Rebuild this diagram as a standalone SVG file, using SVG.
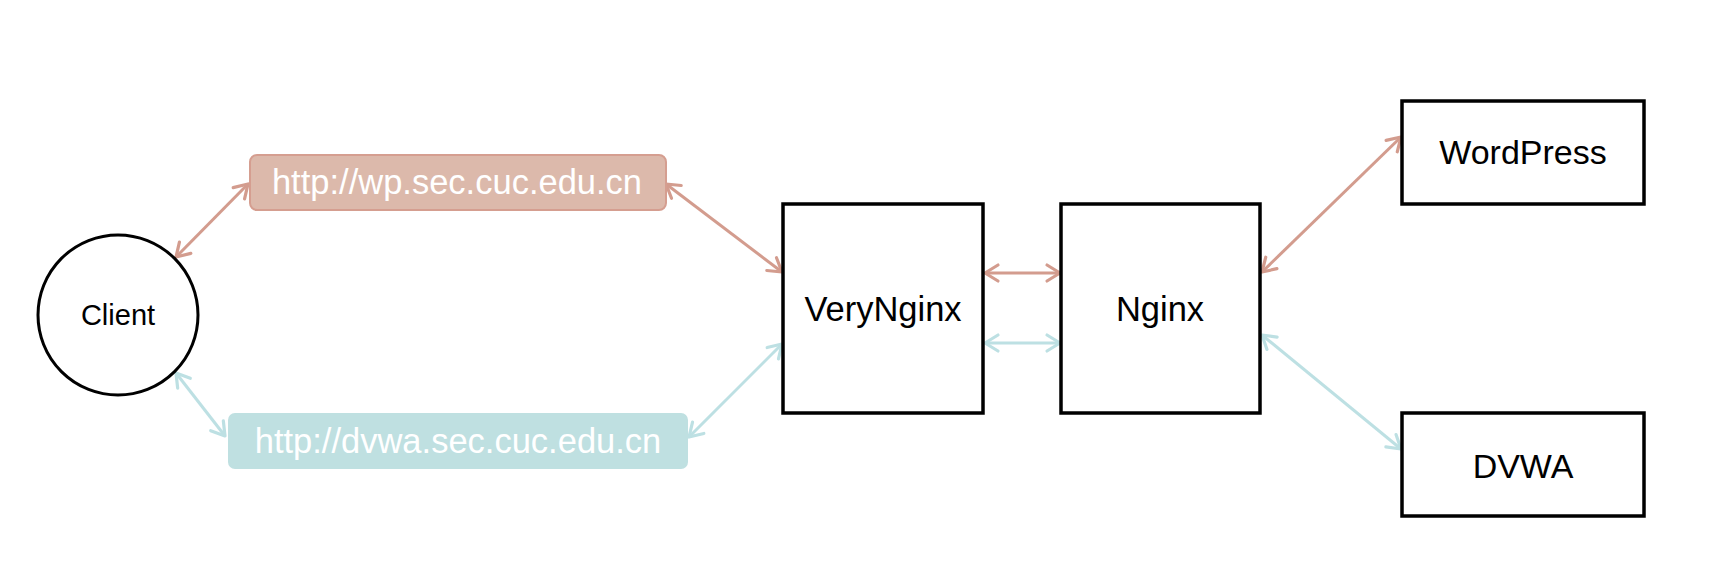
<svg xmlns="http://www.w3.org/2000/svg" width="1716" height="582" viewBox="0 0 1716 582">
<style>
.box{fill:#fff;stroke:#000;stroke-width:3.5}
.lbl{font-family:"Liberation Sans",Arial,sans-serif;fill:#000;text-anchor:middle}
.url{font-family:"Liberation Sans",Arial,sans-serif;fill:#fff;text-anchor:middle;font-size:34.5px}
.red{stroke:#d39c8e;stroke-width:3;fill:none;marker-start:url(#ar);marker-end:url(#ar)}
.cyan{stroke:#bde0e3;stroke-width:3;fill:none;marker-start:url(#ac);marker-end:url(#ac)}
</style>
<defs>
<marker id="ar" markerUnits="userSpaceOnUse" markerWidth="20" markerHeight="20" refX="16" refY="9" orient="auto-start-reverse" overflow="visible">
<path d="M3,1 L16,9 L3,17" fill="none" stroke="#d39c8e" stroke-width="3.2" stroke-linecap="round" stroke-linejoin="round"/>
</marker>
<marker id="ac" markerUnits="userSpaceOnUse" markerWidth="20" markerHeight="20" refX="16" refY="9" orient="auto-start-reverse" overflow="visible">
<path d="M3,1 L16,9 L3,17" fill="none" stroke="#bde0e3" stroke-width="3.2" stroke-linecap="round" stroke-linejoin="round"/>
</marker>
</defs>
<rect width="1716" height="582" fill="#fff"/>
<g id="connectors">
<path class="red" d="M176,257 L248,184"/>
<path class="cyan" d="M176,373 L225,436"/>
<path class="red" d="M666,184 L782,272"/>
<path class="cyan" d="M689,437 L782,344"/>
<path class="red" d="M985,273 L1060,273"/>
<path class="cyan" d="M985,343 L1060,343"/>
<path class="red" d="M1262,272 L1401,137"/>
<path class="cyan" d="M1262,335 L1401,449"/>
</g>
<g id="client">
<circle cx="118" cy="315" r="80" fill="#fff" stroke="#000" stroke-width="3"/>
<text class="lbl" x="118" y="325" font-size="29">Client</text>
</g>
<g id="wp-url">
<rect x="250" y="155" width="416" height="55" rx="7" fill="#dcb9ab" stroke="#d59e90" stroke-width="2"/>
<text class="url" x="457" y="194">http://wp.sec.cuc.edu.cn</text>
</g>
<g id="dvwa-url">
<rect x="228" y="413" width="460" height="56" rx="7" fill="#bfe0e1"/>
<text class="url" x="458" y="453">http://dvwa.sec.cuc.edu.cn</text>
</g>
<g id="verynginx">
<rect class="box" x="783" y="204" width="200" height="209"/>
<text class="lbl" x="883" y="321" font-size="34.5">VeryNginx</text>
</g>
<g id="nginx">
<rect class="box" x="1061" y="204" width="199" height="209"/>
<text class="lbl" x="1160" y="321" font-size="34.5">Nginx</text>
</g>
<g id="wordpress">
<rect class="box" x="1402" y="101" width="242" height="103"/>
<text class="lbl" x="1523" y="164" font-size="34">WordPress</text>
</g>
<g id="dvwa">
<rect class="box" x="1402" y="413" width="242" height="103"/>
<text class="lbl" x="1523" y="478" font-size="34">DVWA</text>
</g>
</svg>
